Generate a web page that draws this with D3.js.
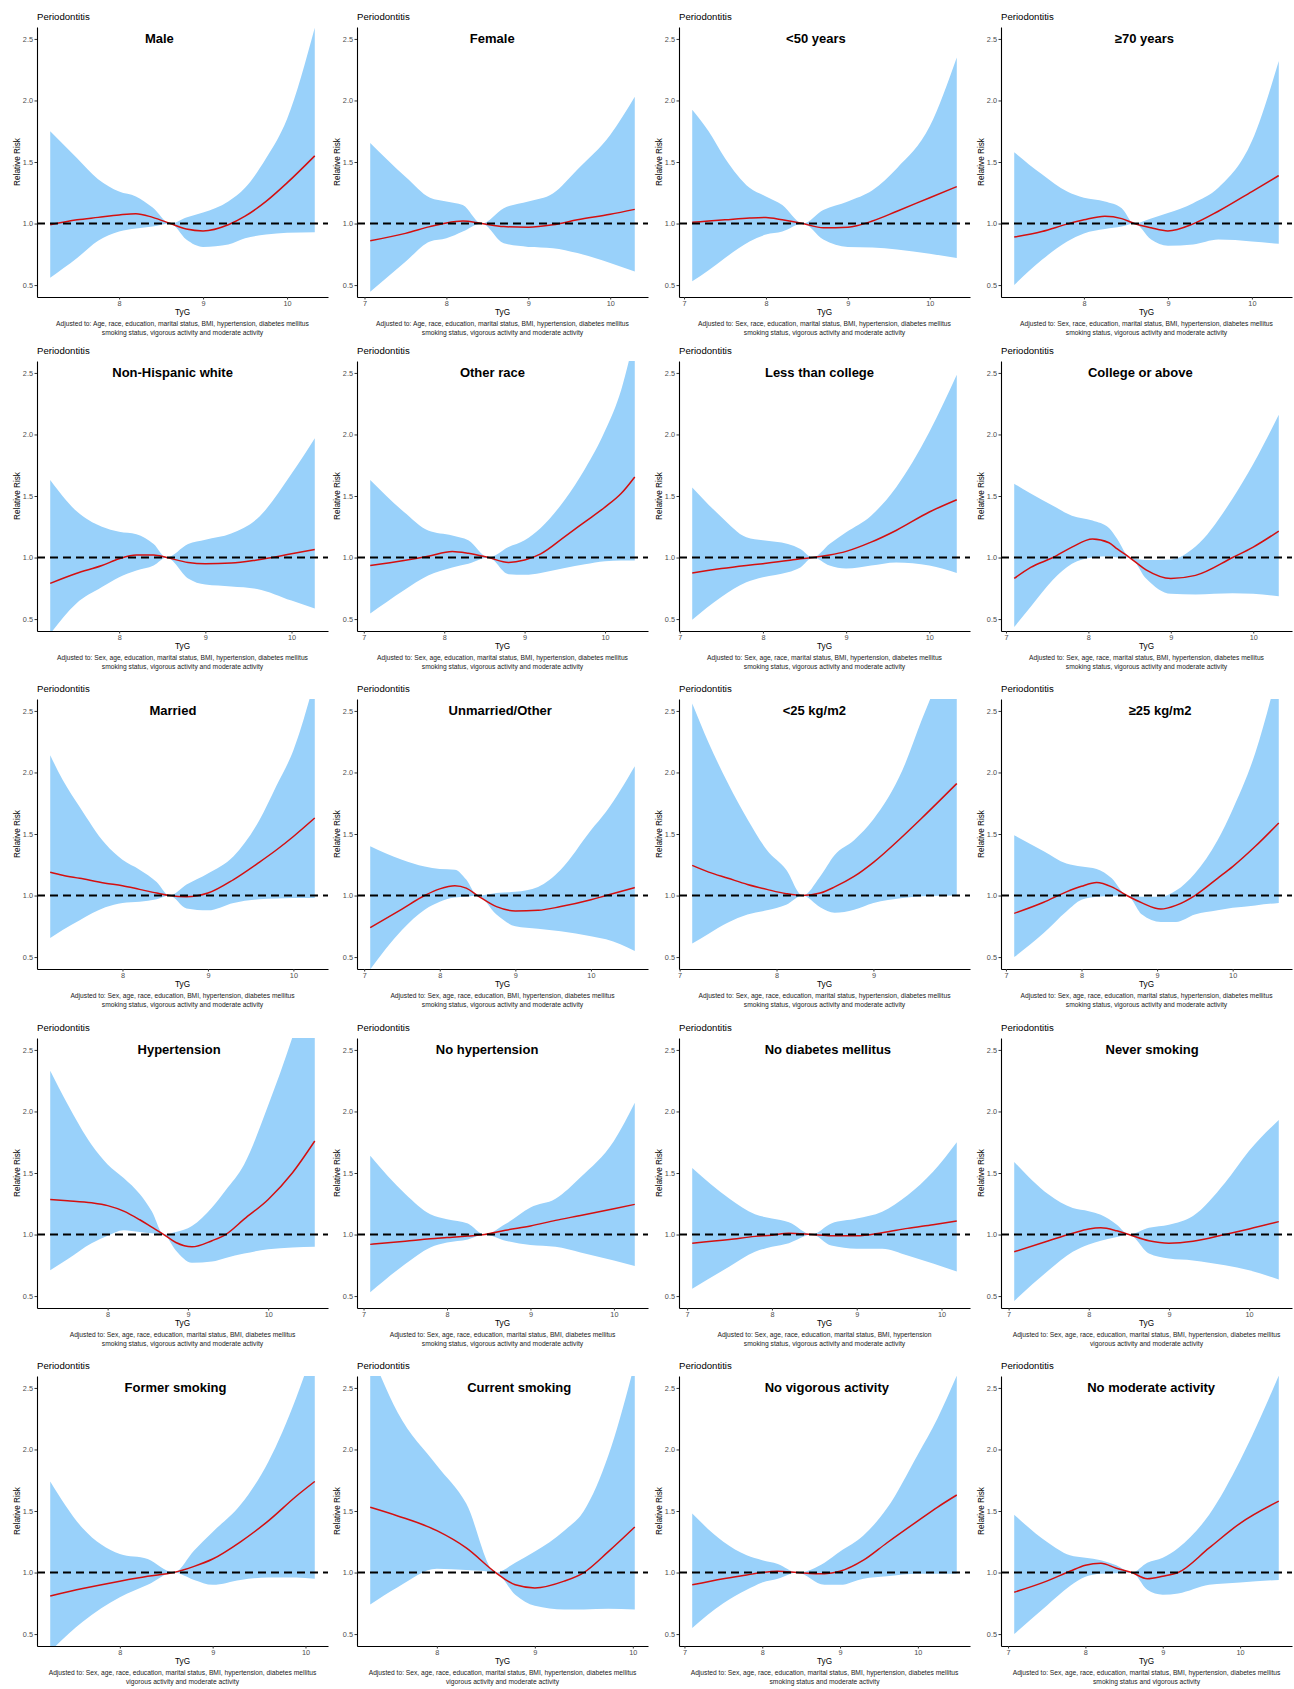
<!DOCTYPE html>
<html>
<head>
<meta charset="utf-8">
<script src="https://cdn.jsdelivr.net/npm/d3@7"></script>
<style>
  body { margin: 0; background: #fff; }
  svg { display: block; font-family: "Liberation Sans", Arial, sans-serif; }
  .tick text { fill: #4d4d4d; font-size: 7.3px; }
  .tick line { stroke: #333; }
  .domain { stroke: #000; stroke-width: 1.1px; }
</style>
</head>
<body>
<svg id="chart" width="1294" height="1689"></svg>
<script>
// each row: [TyG, relative risk, lower CI, upper CI]
const male = [[7.18,0.99,0.56,1.75],[7.5,1.03,0.72,1.53],[7.75,1.05,0.86,1.36],[8.0,1.07,0.935,1.26],[8.2,1.08,0.96,1.22],[8.4,1.05,0.975,1.13],[8.61,1,1,1],[8.8,0.955,0.87,1.05],[9.0,0.94,0.81,1.09],[9.3,0.99,0.83,1.18],[9.5,1.06,0.88,1.29],[9.75,1.18,0.91,1.53],[10.0,1.33,0.925,1.85],[10.33,1.55,0.93,2.59]];
const female = [[7.07,0.86,0.445,1.655],[7.5,0.92,0.69,1.38],[7.8,0.975,0.855,1.21],[8.0,1.005,0.88,1.18],[8.2,1.02,0.935,1.15],[8.43,1,1,1],[8.7,0.975,0.84,1.125],[9.0,0.97,0.81,1.18],[9.3,0.99,0.8,1.245],[9.6,1.03,0.76,1.44],[10.0,1.075,0.68,1.72],[10.3,1.115,0.61,2.03]];
const age50 = [[7.1,1.01,0.53,1.925],[7.3,1.02,0.62,1.75],[7.5,1.03,0.72,1.53],[7.8,1.045,0.855,1.29],[8.0,1.05,0.91,1.22],[8.2,1.03,0.935,1.15],[8.45,1,1,1],[8.7,0.965,0.87,1.11],[9.0,0.97,0.81,1.18],[9.3,1.02,0.805,1.27],[9.6,1.1,0.79,1.45],[10.0,1.21,0.755,1.79],[10.33,1.3,0.72,2.35]];
const age70 = [[7.17,0.89,0.5,1.58],[7.5,0.935,0.705,1.4],[7.8,0.995,0.855,1.26],[8.0,1.03,0.92,1.21],[8.25,1.06,0.955,1.18],[8.45,1.04,0.975,1.125],[8.6,1,1,1],[8.8,0.965,0.87,1.04],[9.0,0.94,0.82,1.085],[9.3,0.997,0.83,1.165],[9.6,1.1,0.87,1.29],[10.0,1.26,0.855,1.67],[10.32,1.39,0.835,2.32]];
const white = [[7.2,0.79,0.38,1.63],[7.5,0.87,0.625,1.38],[7.8,0.935,0.76,1.25],[8.0,0.99,0.84,1.21],[8.2,1.02,0.895,1.19],[8.4,1.02,0.935,1.11],[8.55,1,1,1],[8.8,0.96,0.83,1.11],[9.0,0.95,0.78,1.145],[9.3,0.955,0.765,1.195],[9.6,0.98,0.745,1.315],[10.0,1.03,0.65,1.68],[10.27,1.065,0.585,1.97]];
const otherRace = [[7.08,0.935,0.545,1.63],[7.5,0.975,0.735,1.37],[7.8,1.01,0.855,1.22],[8.1,1.05,0.92,1.18],[8.3,1.035,0.95,1.14],[8.55,1,1,1],[8.8,0.96,0.865,1.085],[9.0,0.98,0.86,1.14],[9.2,1.03,0.875,1.24],[9.5,1.17,0.915,1.47],[9.75,1.29,0.945,1.72],[10.0,1.41,0.97,2.03],[10.2,1.52,0.975,2.36],[10.37,1.655,0.975,2.8]];
const lessCollege = [[7.15,0.875,0.495,1.57],[7.5,0.91,0.68,1.33],[7.8,0.935,0.8,1.165],[8.0,0.95,0.84,1.14],[8.3,0.975,0.88,1.11],[8.45,0.99,0.92,1.07],[8.6,1,1,1],[8.8,1.02,0.935,1.11],[9.0,1.05,0.91,1.205],[9.3,1.125,0.935,1.34],[9.6,1.22,0.96,1.57],[10.0,1.37,0.935,2.02],[10.33,1.47,0.875,2.485]];
const college = [[7.1,0.83,0.435,1.6],[7.3,0.92,0.6,1.52],[7.57,1.0,0.82,1.42],[7.8,1.085,0.95,1.34],[8.05,1.15,1.0,1.3],[8.25,1.12,1.01,1.24],[8.35,1.07,1.0,1.15],[8.5,1,1,1],[8.7,0.9,0.83,0.98],[9.0,0.83,0.705,0.985],[9.3,0.855,0.7,1.09],[9.75,1.0,0.71,1.48],[10.0,1.085,0.705,1.76],[10.31,1.215,0.685,2.16]];
const married = [[7.155,1.19,0.655,2.14],[7.3,1.165,0.72,1.94],[7.5,1.14,0.8,1.72],[7.8,1.1,0.905,1.42],[8.0,1.08,0.94,1.29],[8.2,1.05,0.95,1.21],[8.4,1.02,0.97,1.11],[8.55,1,1,1],[8.75,0.99,0.895,1.09],[9.0,1.02,0.88,1.18],[9.3,1.13,0.94,1.32],[9.6,1.27,0.97,1.61],[9.8,1.37,0.975,1.89],[10.0,1.48,0.98,2.18],[10.25,1.63,0.98,2.75]];
const unmarried = [[7.08,0.74,0.4,1.4],[7.5,0.89,0.72,1.29],[7.8,1.0,0.885,1.235],[8.0,1.054,0.95,1.215],[8.2,1.08,0.985,1.21],[8.35,1.06,0.99,1.13],[8.5,1,1,1],[8.75,0.91,0.845,1.02],[9.0,0.875,0.75,1.03],[9.3,0.88,0.73,1.07],[9.6,0.91,0.71,1.21],[10.0,0.965,0.67,1.53],[10.2,1.0,0.645,1.68],[10.58,1.065,0.55,2.05]];
const bmiLow = [[7.13,1.245,0.61,2.56],[7.3,1.19,0.69,2.24],[7.5,1.14,0.78,1.91],[7.7,1.09,0.845,1.62],[7.9,1.05,0.88,1.37],[8.1,1.015,0.925,1.21],[8.27,1,1,1],[8.45,1.02,0.905,1.155],[8.6,1.07,0.86,1.33],[8.8,1.155,0.885,1.45],[9.0,1.27,0.94,1.62],[9.3,1.48,0.98,2.02],[9.5,1.63,0.995,2.43],[9.86,1.91,1.0,3.1]];
const bmiHigh = [[7.11,0.855,0.5,1.49],[7.5,0.945,0.695,1.36],[7.8,1.03,0.87,1.26],[8.0,1.075,0.965,1.235],[8.2,1.105,0.99,1.215],[8.4,1.07,0.997,1.14],[8.6,1,1,1],[8.8,0.94,0.845,0.99],[9.05,0.89,0.785,0.99],[9.25,0.92,0.785,1.04],[9.5,1.0,0.845,1.18],[9.8,1.14,0.88,1.45],[10.0,1.235,0.9,1.7],[10.3,1.4,0.92,2.16],[10.61,1.59,0.94,2.85]];
const hyper = [[7.285,1.285,0.71,2.33],[7.5,1.275,0.8,2.06],[7.8,1.258,0.93,1.73],[8.0,1.235,0.99,1.57],[8.2,1.19,1.035,1.46],[8.4,1.12,1.02,1.33],[8.55,1.06,1.01,1.19],[8.7,1,1,1],[8.85,0.935,0.87,1.02],[9.05,0.9,0.77,1.07],[9.3,0.95,0.78,1.22],[9.47,1.0,0.81,1.36],[9.7,1.125,0.845,1.57],[10.0,1.285,0.88,2.05],[10.3,1.5,0.895,2.6],[10.58,1.76,0.9,3.2]];
const noHyper = [[7.08,0.92,0.53,1.64],[7.5,0.945,0.76,1.33],[7.8,0.965,0.895,1.165],[8.0,0.975,0.935,1.125],[8.25,0.988,0.96,1.09],[8.45,1,1,1],[8.7,1.035,0.95,1.085],[9.0,1.07,0.915,1.22],[9.3,1.115,0.9,1.29],[9.6,1.155,0.855,1.465],[10.0,1.21,0.79,1.76],[10.25,1.245,0.745,2.07]];
const noDiab = [[7.06,0.93,0.56,1.54],[7.5,0.96,0.74,1.29],[7.8,0.985,0.86,1.165],[8.0,0.995,0.9,1.13],[8.2,1.01,0.93,1.1],[8.47,1,1,1],[8.7,0.99,0.91,1.09],[9.0,0.99,0.885,1.13],[9.3,1.015,0.885,1.185],[9.6,1.05,0.83,1.32],[9.9,1.08,0.765,1.51],[10.18,1.11,0.7,1.75]];
const neverSmk = [[7.07,0.86,0.46,1.59],[7.5,0.95,0.71,1.325],[7.8,1.01,0.86,1.215],[8.0,1.045,0.92,1.19],[8.15,1.055,0.95,1.16],[8.35,1.03,0.98,1.08],[8.5,1,1,1],[8.75,0.95,0.845,1.055],[9.0,0.93,0.805,1.08],[9.3,0.945,0.79,1.15],[9.7,1.0,0.75,1.42],[10.0,1.045,0.71,1.68],[10.37,1.105,0.635,1.93]];
const formerSmk = [[7.25,0.81,0.36,1.74],[7.6,0.87,0.6,1.36],[8.0,0.93,0.8,1.15],[8.3,0.97,0.9,1.11],[8.58,1,1,1],[8.8,1.05,0.94,1.18],[9.0,1.11,0.9,1.33],[9.3,1.25,0.94,1.55],[9.6,1.42,0.96,1.9],[9.9,1.62,0.96,2.42],[10.1,1.74,0.95,2.85]];
const currentSmk = [[7.32,1.53,0.74,2.8],[7.6,1.46,0.88,2.3],[8.0,1.34,1.03,1.87],[8.3,1.2,1.02,1.56],[8.6,1,1,1],[8.8,0.9,0.82,1.08],[9.0,0.875,0.73,1.17],[9.3,0.93,0.7,1.34],[9.5,1.0,0.7,1.5],[9.75,1.17,0.705,1.95],[10.02,1.37,0.7,2.7]];
const noVig = [[7.1,0.9,0.55,1.48],[7.5,0.95,0.75,1.25],[7.8,0.98,0.86,1.14],[8.0,1.0,0.92,1.1],[8.2,1.01,0.95,1.07],[8.45,1,1,1],[8.8,0.99,0.9,1.08],[9.0,1.01,0.9,1.17],[9.3,1.1,0.95,1.3],[9.6,1.24,0.97,1.52],[10.0,1.42,0.99,1.96],[10.25,1.53,0.99,2.25],[10.5,1.63,0.99,2.6]];
const noMod = [[7.08,0.84,0.5,1.47],[7.5,0.93,0.73,1.25],[7.8,1.01,0.89,1.14],[8.0,1.06,0.965,1.12],[8.2,1.075,0.99,1.1],[8.4,1.035,0.995,1.06],[8.6,1,1,1],[8.8,0.95,0.86,1.08],[9.0,0.97,0.82,1.12],[9.2,1.0,0.83,1.2],[9.6,1.2,0.9,1.47],[10.0,1.4,0.92,1.91],[10.5,1.58,0.94,2.6]];

const curves = [male, female, age50, age70, white, otherRace, lessCollege, college,
                married, unmarried, bmiLow, bmiHigh, hyper, noHyper, noDiab, neverSmk,
                formerSmk, currentSmk, noVig, noMod];

const titles = ["Male", "Female", "<50 years", "\u226570 years",
                "Non-Hispanic white", "Other race", "Less than college", "College or above",
                "Married", "Unmarried/Other", "<25 kg/m2", "\u226525 kg/m2",
                "Hypertension", "No hypertension", "No diabetes mellitus", "Never smoking",
                "Former smoking", "Current smoking", "No vigorous activity", "No moderate activity"];

// TyG value the panel title is centred on
const titleAt = [8.48, 8.56, 8.61, 8.72, 8.62, 8.6, 8.68, 8.63,
                 8.59, 8.8, 8.39, 9.04, 8.89, 8.48, 8.66, 8.79,
                 8.6, 8.84, 8.83, 8.85];

const adjLine1 = [
  "Age, race, education, marital status, BMI, hypertension, diabetes mellitus",
  "Age, race, education, marital status, BMI, hypertension, diabetes mellitus",
  "Sex, race, education, marital status, BMI, hypertension, diabetes mellitus",
  "Sex, race, education, marital status, BMI, hypertension, diabetes mellitus",
  "Sex, age, education, marital status, BMI, hypertension, diabetes mellitus",
  "Sex, age, education, marital status, BMI, hypertension, diabetes mellitus",
  "Sex, age, race, marital status, BMI, hypertension, diabetes mellitus",
  "Sex, age, race, marital status, BMI, hypertension, diabetes mellitus",
  "Sex, age, race, education, BMI, hypertension, diabetes mellitus",
  "Sex, age, race, education, BMI, hypertension, diabetes mellitus",
  "Sex, age, race, education, marital status, hypertension, diabetes mellitus",
  "Sex, age, race, education, marital status, hypertension, diabetes mellitus",
  "Sex, age, race, education, marital status, BMI, diabetes mellitus",
  "Sex, age, race, education, marital status, BMI, diabetes mellitus",
  "Sex, age, race, education, marital status, BMI, hypertension",
  "Sex, age, race, education, marital status, BMI, hypertension, diabetes mellitus",
  "Sex, age, race, education, marital status, BMI, hypertension, diabetes mellitus",
  "Sex, age, race, education, marital status, BMI, hypertension, diabetes mellitus",
  "Sex, age, race, education, marital status, BMI, hypertension, diabetes mellitus",
  "Sex, age, race, education, marital status, BMI, hypertension, diabetes mellitus"];

const adjLine2 = [
  "smoking status, vigorous activity and moderate activity",
  "smoking status, vigorous activity and moderate activity",
  "smoking status, vigorous activity and moderate activity",
  "smoking status, vigorous activity and moderate activity",
  "smoking status, vigorous activity and moderate activity",
  "smoking status, vigorous activity and moderate activity",
  "smoking status, vigorous activity and moderate activity",
  "smoking status, vigorous activity and moderate activity",
  "smoking status, vigorous activity and moderate activity",
  "smoking status, vigorous activity and moderate activity",
  "smoking status, vigorous activity and moderate activity",
  "smoking status, vigorous activity and moderate activity",
  "smoking status, vigorous activity and moderate activity",
  "smoking status, vigorous activity and moderate activity",
  "smoking status, vigorous activity and moderate activity",
  "vigorous activity and moderate activity",
  "vigorous activity and moderate activity",
  "vigorous activity and moderate activity",
  "smoking status and moderate activity",
  "smoking status and vigorous activity"];

const yTicks = [0.5, 1.0, 1.5, 2.0, 2.5];

const colLeft = [37, 357, 679, 1001];
const rowTop = [27, 361, 699, 1038, 1376];
const plotW = 291, plotH = 270;

const svg = d3.select("#chart");
svg.append("rect").attr("width", 1294).attr("height", 1689).attr("fill", "#fff");

const y = d3.scaleLinear().domain([0.403, 2.597]).range([plotH, 0]);

curves.forEach(function(data, i) {
  const g = svg.append("g")
               .attr("transform", "translate(" + colLeft[i % 4] + "," + rowTop[Math.floor(i / 4)] + ")");

  // ggplot-style 5% expansion around the data range
  const ext = d3.extent(data, d => d[0]);
  const pad = (ext[1] - ext[0]) * 0.05;
  const x = d3.scaleLinear().domain([ext[0] - pad, ext[1] + pad]).range([0, plotW]);

  const clipId = "clip" + i;
  g.append("clipPath").attr("id", clipId)
   .append("rect").attr("width", plotW).attr("height", plotH);

  const body = g.append("g").attr("clip-path", "url(#" + clipId + ")");

  const area = d3.area()
                 .x(d => x(d[0]))
                 .y0(d => y(d[2]))
                 .y1(d => y(d[3]))
                 .curve(d3.curveMonotoneX);
  body.append("path").datum(data).attr("d", area).attr("fill", "#99d1fa");

  const line = d3.line()
                 .x(d => x(d[0]))
                 .y(d => y(d[1]))
                 .curve(d3.curveMonotoneX);
  body.append("path").datum(data).attr("d", line)
      .attr("fill", "none").attr("stroke", "#d40f0f").attr("stroke-width", 1.5);

  body.append("line")
      .attr("x1", 0).attr("x2", plotW)
      .attr("y1", y(1)).attr("y2", y(1))
      .attr("stroke", "#000").attr("stroke-width", 2)
      .attr("stroke-dasharray", "8,5");

  const xTicks = d3.range(Math.ceil(x.domain()[0]), Math.floor(x.domain()[1]) + 1);
  g.append("g")
   .attr("transform", "translate(0," + plotH + ")")
   .call(d3.axisBottom(x).tickValues(xTicks).tickFormat(d3.format("d"))
           .tickSize(2.5).tickSizeOuter(0).tickPadding(1));

  g.append("g")
   .call(d3.axisLeft(y).tickValues(yTicks).tickFormat(d3.format(".1f"))
           .tickSize(2.5).tickSizeOuter(0).tickPadding(1.5));

  g.append("text")
   .attr("x", 0).attr("y", -7.5)
   .style("font-size", "9.6px")
   .text("Periodontitis");

  g.append("text")
   .attr("x", x(titleAt[i])).attr("y", y(2.5))
   .attr("text-anchor", "middle")
   .attr("dominant-baseline", "central")
   .style("font-size", "13px").style("font-weight", "bold")
   .text(titles[i]);

  g.append("text")
   .attr("transform", "translate(-20," + (plotH / 2) + ") rotate(-90)")
   .attr("text-anchor", "middle")
   .attr("dominant-baseline", "central")
   .style("font-size", "8.2px")
   .text("Relative Risk");

  g.append("text")
   .attr("x", plotW / 2).attr("y", 288)
   .attr("text-anchor", "middle")
   .style("font-size", "8.2px")
   .text("TyG");

  g.append("text")
   .attr("x", plotW / 2).attr("y", 298.5)
   .attr("text-anchor", "middle")
   .style("font-size", "6.7px").attr("fill", "#1a1a1a")
   .text("Adjusted to: " + adjLine1[i]);

  g.append("text")
   .attr("x", plotW / 2).attr("y", 307.5)
   .attr("text-anchor", "middle")
   .style("font-size", "6.7px").attr("fill", "#1a1a1a")
   .text(adjLine2[i]);
});
</script>
</body>
</html>
